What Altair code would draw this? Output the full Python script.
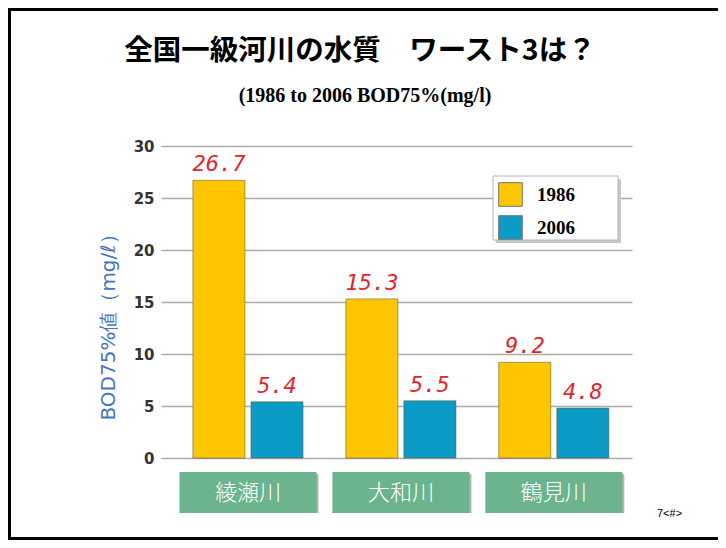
import altair as alt
import pandas as pd

rivers = ["綾瀬川", "大和川", "鶴見川"]
years = ["1986", "2006"]
bod_1986 = [26.7, 15.3, 9.2]
bod_2006 = [5.4, 5.5, 4.8]
y_ticks = [0, 5, 10, 15, 20, 25, 30]

title_text = "全国一級河川の水質　ワースト3は？"
subtitle_text = "(1986 to 2006 BOD75%(mg/l)"
y_title = "BOD75%値（mg/ℓ）"
page_note = "7<#>"

YELLOW = "#FDC600"
BLUE = "#0A9CC6"
GREEN = "#6CB48D"
RED = "#E3262E"

rows = []
for i, r in enumerate(rivers):
    rows.append({"river": r, "year": years[0], "value": bod_1986[i]})
    rows.append({"river": r, "year": years[1], "value": bod_2006[i]})
df = pd.DataFrame(rows)
cat_df = pd.DataFrame({"river": rivers})
one = pd.DataFrame({"k": [0]})

x_enc = alt.X("river:N", sort=rivers, axis=None,
              scale=alt.Scale(domain=rivers, paddingInner=0.28,
                              paddingOuter=0.18, align=0.58))
xo_enc = alt.XOffset("year:N", sort=years,
                     scale=alt.Scale(domain=years, paddingInner=0.103, paddingOuter=0))
y_enc = alt.Y("value:Q",
              scale=alt.Scale(domain=[0, 30], nice=False, zero=True),
              axis=alt.Axis(values=y_ticks, title=y_title, grid=True,
                            gridColor="#ababab", gridWidth=1.5,
                            domain=False, ticks=False,
                            labelFont="DejaVu Sans", labelFontWeight="bold",
                            labelFontSize=15, labelColor="#333333",
                            labelPadding=7,
                            titleFont="DejaVu Sans", titleFontSize=20,
                            titleFontWeight="normal", titleColor="#4577BE",
                            titleAngle=270, titleX=-53, titleY=176,
                            titleAlign="center", titleBaseline="middle"))

color_enc = alt.Color("year:N", sort=years,
                      scale=alt.Scale(domain=years, range=[YELLOW, BLUE]),
                      legend=alt.Legend(orient="none", legendX=337, legendY=36,
                                        title=None, padding=0,
                                        symbolType="square", symbolSize=560,
                                        symbolStrokeColor="#777777",
                                        symbolStrokeWidth=1,
                                        symbolOpacity=1,
                                        labelFont="Liberation Serif",
                                        labelFontWeight="bold", labelFontSize=19,
                                        labelColor="#000000", labelOffset=14,
                                        rowPadding=4))

border = alt.Chart(one).mark_rect(fillOpacity=0, stroke="black", strokeWidth=3).encode(
    x=alt.value(-151.5), x2=alt.value(575), y=alt.value(-136.5), y2=alt.value(392.5))

title = alt.Chart(one).mark_text(text=title_text, font="Noto Sans CJK JP",
                                 fontWeight="bold", fontSize=28.5, color="black",
                                 align="center", baseline="middle").encode(
    x=alt.value(199), y=alt.value(-95))
subtitle = alt.Chart(one).mark_text(text=subtitle_text, font="Liberation Serif",
                                    fontWeight="bold", fontSize=20, color="black",
                                    align="center", baseline="middle").encode(
    x=alt.value(204), y=alt.value(-50))
note = alt.Chart(one).mark_text(text=page_note, font="Liberation Sans",
                                fontSize=11, color="black",
                                align="left", baseline="middle").encode(
    x=alt.value(496), y=alt.value(368))

shadow = alt.Chart(df).mark_bar(color="#9a9a9a", opacity=0.55, xOffset=3, yOffset=1).encode(
    x=x_enc, xOffset=xo_enc, y=y_enc)
bars = alt.Chart(df).mark_bar(stroke="#6b6030", strokeWidth=0.8, strokeOpacity=0.7).encode(
    x=x_enc, xOffset=xo_enc, y=y_enc, color=color_enc)
labels = alt.Chart(df).mark_text(font="DejaVu Sans Mono", fontStyle="italic",
                                 fontSize=22, color=RED, dy=-16,
                                 align="center", baseline="middle").encode(
    x=x_enc, xOffset=xo_enc, y=alt.Y("value:Q"), text=alt.Text("value:Q", format=".1f"))

leg_shadow = alt.Chart(one).mark_rect(fill="#c8c8c8").encode(
    x=alt.value(335), x2=alt.value(460), y=alt.value(33), y2=alt.value(97))
leg_box = alt.Chart(one).mark_rect(fill="white", stroke="#b5b5b5", strokeWidth=1).encode(
    x=alt.value(332), x2=alt.value(457), y=alt.value(30), y2=alt.value(94))

cat_shadow = alt.Chart(cat_df).mark_bar(color="#a9b8ae", size=137, xOffset=2, yOffset=2).encode(
    x=x_enc, y=alt.value(326), y2=alt.value(367))
cat_box = alt.Chart(cat_df).mark_bar(color=GREEN, size=137).encode(
    x=x_enc, y=alt.value(326), y2=alt.value(367))
cat_text = alt.Chart(cat_df).mark_text(font="Noto Sans CJK JP", fontSize=22,
                                       fontWeight=300,
                                       color="white", align="center",
                                       baseline="middle").encode(
    x=x_enc, y=alt.value(347), text="river:N")

chart = alt.layer(
    border, title, subtitle, note,
    shadow, bars, labels,
    leg_shadow, leg_box,
    cat_shadow, cat_box, cat_text,
).properties(
    width=471, height=312,
    autosize=alt.AutoSizeParams(type="none"),
    padding={"left": 153, "top": 138, "right": 86, "bottom": 82},
    background="white",
).configure_view(stroke=None)

chart.save("out.html", embed_options={"renderer": "svg", "actions": False})
